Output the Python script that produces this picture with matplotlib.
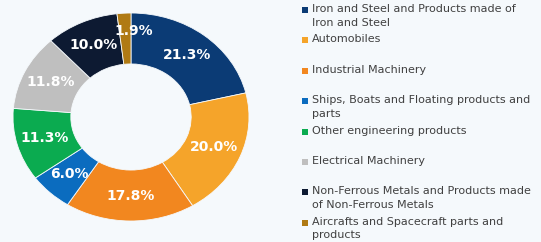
import matplotlib
matplotlib.use("Agg")
import matplotlib.pyplot as plt
from matplotlib.patches import Rectangle

categories = [
    "Iron and Steel and Products made of\nIron and Steel",
    "Automobiles",
    "Industrial Machinery",
    "Ships, Boats and Floating products and\nparts",
    "Other engineering products",
    "Electrical Machinery",
    "Non-Ferrous Metals and Products made\nof Non-Ferrous Metals",
    "Aircrafts and Spacecraft parts and\nproducts",
]
values = [21.3, 20.0, 17.8, 6.0, 11.3, 11.8, 10.0, 1.9]
colors = ["#0b3b75", "#f5a42a", "#f2871f", "#0b6cbf", "#0bab50",
          "#bfbfbf", "#0d1a32", "#b07a14"]

bg = "#f5f9fc"
W, H = 541, 242
fig = plt.figure(figsize=(W / 100, H / 100), dpi=100, facecolor=bg)

cx, cy, rx, ry = 131, 117, 118, 104
ax = fig.add_axes([(cx - rx) / W, (H - cy - ry) / H, 2 * rx / W, 2 * ry / H])
ax.set_facecolor(bg)
wedges, texts, autotexts = ax.pie(
    values, colors=colors, startangle=90, counterclock=False, radius=1,
    autopct=lambda p: "", pctdistance=0.76,
    wedgeprops=dict(width=0.49, edgecolor=bg, linewidth=0.6),
)
for t, v in zip(autotexts, values):
    t.set_text(f"{v:.1f}%")
    t.set_color("white")
    t.set_fontsize(10)
    t.set_fontweight("bold")
# nudge the small slice label up/right as in the reference
x, y = autotexts[-1].get_position()
autotexts[-1].set_position((x + 0.07, y + 0.07))
ax.set_aspect("auto")
ax.set_xlim(-1, 1)
ax.set_ylim(-1, 1)
ax.axis("off")

# legend
y0, dy = 10, 30.4
for i, (lab, c) in enumerate(zip(categories, colors)):
    y = y0 + dy * i
    fig.patches.append(Rectangle((302 / W, (H - y - 3) / H), 6 / W, 6 / H,
                                 transform=fig.transFigure, facecolor=c,
                                 edgecolor="none"))
    fig.text(312 / W, (H - y + 6) / H, lab, ha="left", va="top",
             fontsize=8, color="#404040", linespacing=1.45)

fig.savefig("out.png", dpi=100, facecolor=bg)
